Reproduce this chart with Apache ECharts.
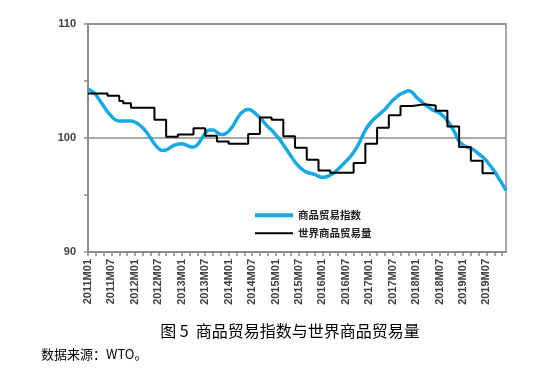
<!DOCTYPE html>
<html>
<head>
<meta charset="utf-8">
<script src="https://cdn.jsdelivr.net/npm/echarts@6/dist/echarts.min.js"></script>
<style>
html,body{margin:0;padding:0;background:#fff;}
#c{width:558px;height:386px;}
</style>
</head>
<body>
<div id="c"></div>
<script>
// Month categories 2011M01 .. 2019M12
var years = [2011,2012,2013,2014,2015,2016,2017,2018,2019];
var monthCodes = ['01','02','03','04','05','06','07','08','09','10','11','12'];
var categories = [];
years.forEach(function(y){ monthCodes.forEach(function(m){ categories.push(y + 'M' + m); }); });

var seriesNames = ['商品贸易指数', '世界商品贸易量'];

// 商品贸易指数 (monthly)
var tradeIndex = [
  104.3,104.1,103.8,103.3,102.8,102.3,101.9,101.6,101.5,101.5,101.5,101.5,
  101.4,101.2,100.9,100.5,100.0,99.5,99.1,98.9,98.95,99.15,99.35,99.45,
  99.5,99.4,99.25,99.2,99.4,99.9,100.4,100.7,100.7,100.5,100.3,100.35,
  100.6,101.0,101.6,102.1,102.4,102.5,102.4,102.1,101.8,101.4,101.0,100.7,
  100.3,99.9,99.4,98.9,98.4,97.9,97.5,97.2,97.0,96.9,96.8,96.65,
  96.55,96.6,96.75,96.95,97.25,97.6,97.95,98.3,98.75,99.3,100.0,100.7,
  101.2,101.6,101.9,102.2,102.5,102.9,103.3,103.6,103.85,104.0,104.15,104.0,
  103.6,103.3,103.0,102.75,102.5,102.35,102.2,101.9,101.5,101.0,100.4,99.7,
  99.4,99.2,99.1,98.9,98.6,98.35,98.0,97.55,97.1,96.55,96.0,95.4
];

// 世界商品贸易量 (stepped): month where each level starts, and the level
var volumeMonths = ['2011M01','2011M06','2011M09','2011M10','2011M12','2012M06','2012M09','2012M12',
  '2013M04','2013M07','2013M10','2014M01','2014M06','2014M09','2014M12','2015M03','2015M06','2015M09',
  '2015M12','2016M03','2016M09','2016M12','2017M03','2017M06','2017M09','2017M12','2018M03','2018M06',
  '2018M09','2018M12','2019M03','2019M06','2019M09'];
var volumeValues = [103.9,103.7,103.25,103.05,102.65,101.6,100.1,100.3,
  100.85,100.2,99.7,99.5,100.35,101.8,101.6,100.15,99.15,98.1,
  97.15,96.95,97.8,99.5,100.9,102.0,102.8,102.95,102.85,102.4,
  101.0,99.2,98.0,96.9,96.9];

var yTicks = [90, 100, 110];
var caption = '图 5  商品贸易指数与世界商品贸易量';
var source = '数据来源：WTO。';

var volumeData = volumeMonths.map(function(m, i){ return [m, volumeValues[i]]; });

var chart = echarts.init(document.getElementById('c'), null, {renderer:'canvas'});
chart.setOption({
  animation: false,
  backgroundColor: '#fff',
  grid: {left: 88, top: 24, right: 52, bottom: 134, show: true, borderColor: '#8c8c8c', borderWidth: 1.5},
  xAxis: {
    type: 'category',
    data: categories,
    boundaryGap: false,
    axisLine: {lineStyle: {color: '#8c8c8c', width: 2}},
    axisTick: {show: true, interval: 1, length: 4, inside: false, lineStyle: {color: '#8c8c8c', width: 1.5}},
    axisLabel: {interval: 5, rotate: 90, margin: 7, fontFamily: 'Liberation Sans', fontWeight: 'bold', fontSize: 11, color: '#404040'},
    splitLine: {show: false}
  },
  yAxis: {
    type: 'value',
    min: yTicks[0], max: yTicks[yTicks.length-1], interval: 10,
    axisLine: {show: true, lineStyle: {color: '#8c8c8c', width: 2}},
    axisTick: {show: true, length: 4, lineStyle: {color: '#8c8c8c', width: 1.5}},
    minorTick: {show: true, splitNumber: 2, length: 4, lineStyle: {color: '#8c8c8c', width: 1.5}},
    axisLabel: {margin: 12, fontFamily: 'Liberation Sans', fontWeight: 'bold', fontSize: 11, color: '#404040'},
    splitLine: {show: true, lineStyle: {color: '#8c8c8c', width: 1.5}}
  },
  legend: {
    orient: 'vertical',
    left: 255, top: 210, padding: 0,
    itemWidth: 38, itemHeight: 4, itemGap: 7.5,
    textStyle: {fontFamily: 'Noto Sans CJK SC', fontSize: 10.5, fontWeight: 'bold', color: '#222'},
    data: [
      {name: seriesNames[0], icon: 'rect', itemStyle: {color: '#17a9e1'}},
      {name: seriesNames[1], icon: 'path://M0,0.25H10V0.75H0Z', itemStyle: {color: '#000'}}
    ]
  },
  title: [
    {text: caption, left: 285, top: 318, textAlign: 'center',
     textStyle: {fontFamily: 'Noto Sans CJK SC', fontSize: 16, fontWeight: 'normal', color: '#000'}},
    {text: source, left: 36, top: 343,
     textStyle: {fontFamily: 'Noto Sans CJK SC', fontSize: 13, fontWeight: 'normal', color: '#000'}}
  ],
  series: [
    {name: seriesNames[0], type: 'line', data: tradeIndex, smooth: 0.4, symbol: 'none',
     lineStyle: {color: '#17a9e1', width: 3.5}, itemStyle: {color: '#17a9e1'}, z: 2},
    {name: seriesNames[1], type: 'line', data: volumeData, step: 'end', symbol: 'none',
     lineStyle: {color: '#000', width: 2}, itemStyle: {color: '#000'}, z: 3}
  ]
});
</script>
</body>
</html>
